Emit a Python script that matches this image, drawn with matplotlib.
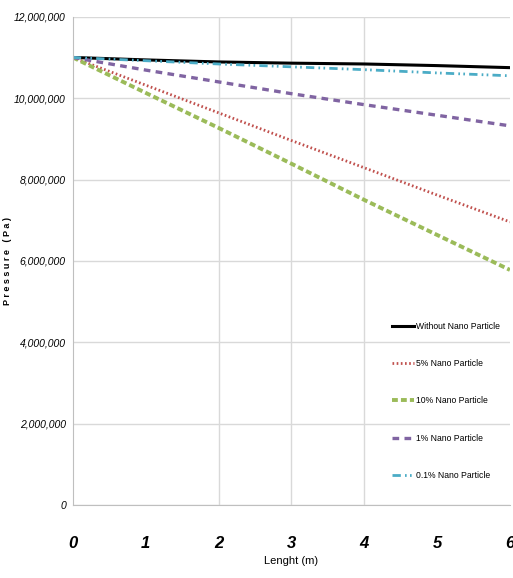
import matplotlib.pyplot as plt
from matplotlib.ticker import FuncFormatter

# data (pressure in Pa vs length in m)
length = [0, 1, 2, 3, 4, 5, 6]
p_without = [11.0e6, 10.94e6, 10.89e6, 10.86e6, 10.84e6, 10.80e6, 10.75e6]
p_5 = [11.0e6, 10.32e6, 9.64e6, 8.96e6, 8.29e6, 7.62e6, 6.96e6]
p_10 = [11.0e6, 10.13e6, 9.27e6, 8.39e6, 7.50e6, 6.64e6, 5.78e6]
p_1 = [11.0e6, 10.69e6, 10.40e6, 10.11e6, 9.84e6, 9.58e6, 9.32e6]
p_01 = [11.0e6, 10.92e6, 10.84e6, 10.77e6, 10.70e6, 10.62e6, 10.55e6]
labels = ['Without Nano Particle', '5% Nano Particle', '10% Nano Particle',
          '1% Nano Particle', '0.1% Nano Particle']
yticks = [0, 2e6, 4e6, 6e6, 8e6, 10e6, 12e6]
vgrid = [2, 3, 4]

fnt = ['Liberation Sans', 'DejaVu Sans']

fig = plt.figure(figsize=(5.13, 5.78), dpi=100)
ax = fig.add_axes([0.142, 0.126, 0.852, 0.845])

ax.plot(length, p_without, color='black', lw=2.2, label=labels[0])
ax.plot(length, p_5, color='#C0504D', lw=2.0, ls=(0, (0.6, 0.9)), label=labels[1])
ax.plot(length, p_10, color='#9BBB59', lw=2.8, ls=(0, (1.5, 0.8)), label=labels[2])
ax.plot(length, p_1, color='#8064A2', lw=2.4, ls=(0, (2, 1.6)), label=labels[3])
ax.plot(length, p_01, color='#4BACC6', lw=2.0, ls=(0, (3, 1.5, 0.6, 1.2, 0.6, 1.5)), label=labels[4])

ax.set_xlim(0, 6)
ax.set_ylim(0, 12e6)
ax.set_yticks(yticks)
ax.set_xticks(length)
ax.yaxis.set_major_formatter(FuncFormatter(lambda v, p: '{:,.0f}'.format(v)))
ax.grid(axis='y', color='#d9d9d9', lw=1)
for g in vgrid:
    ax.axvline(g, color='#d9d9d9', lw=1, zorder=0)

for s in ['top', 'right']:
    ax.spines[s].set_visible(False)
for s in ['left', 'bottom']:
    ax.spines[s].set_color('#bfbfbf')

ax.tick_params(length=0)
ax.tick_params(axis='y', pad=5)
ax.tick_params(axis='x', pad=22)
for t in ax.get_yticklabels():
    t.set_fontfamily(fnt)
    t.set_fontstyle('italic')
    t.set_fontsize(7.5)
for t in ax.get_xticklabels():
    t.set_fontfamily(fnt)
    t.set_fontstyle('italic')
    t.set_fontweight('bold')
    t.set_fontsize(12)

ax.set_xlabel('Lenght (m)', fontsize=8, family=fnt, labelpad=4)
ax.set_ylabel('P r e s s u r e   ( P a )', fontsize=6.5, fontweight='bold', family=fnt)
ax.yaxis.set_label_coords(-0.14, 0.5)

ax.legend(loc='lower right', bbox_to_anchor=(0.995, 0.035), frameon=False,
          labelspacing=3.3, handlelength=2.6, handletextpad=0.2,
          prop={'family': fnt, 'size': 6.2})

plt.savefig('out.png')
